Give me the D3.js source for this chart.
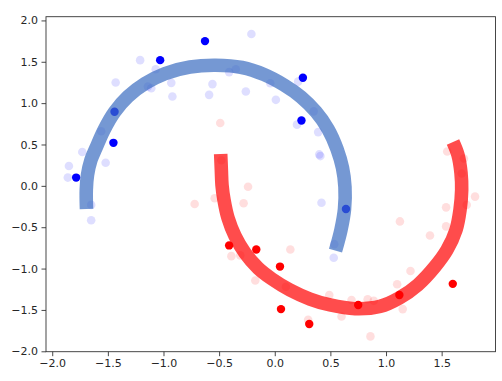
<!DOCTYPE html>
<html>
<head>
<meta charset="utf-8">
<script src="https://cdn.jsdelivr.net/npm/d3@7"></script>
<style>
  body { margin: 0; background: #fff; }
  text { font-family: "DejaVu Sans", sans-serif; }
</style>
</head>
<body>
<svg></svg>
<script>
// Tick values
const xTicks = [-2.0, -1.5, -1.0, -0.5, 0.0, 0.5, 1.0, 1.5];
const yTicks = [-2.0, -1.5, -1.0, -0.5, 0.0, 0.5, 1.0, 1.5, 2.0];

// Upper moon (blue) – faint points and highlighted points
const blueFaint = [
  [-1.21, 1.52], [-1.07, 1.41], [-1.43, 1.25], [-1.14, 1.20], [-1.11, 1.18],
  [-1.56, 0.66], [-1.73, 0.41], [-1.52, 0.28], [-1.85, 0.24], [-1.86, 0.10],
  [-0.21, 1.835], [-0.93, 1.245], [-0.92, 1.08], [-0.56, 1.23], [-0.59, 1.10],
  [-0.41, 1.375], [-0.35, 1.41], [-0.26, 1.14], [-0.04, 1.24], [0.01, 1.04],
  [0.21, 1.26], [0.35, 0.90], [0.20, 0.74], [0.39, 0.65], [0.40, 0.38],
  [0.41, 0.36], [-1.65, -0.23], [-1.65, -0.415], [0.42, -0.205], [0.535, -0.705],
  [0.53, -0.87]
];
const blueSolid = [
  [-1.03, 1.52], [-1.44, 0.895], [-1.45, 0.52], [-1.785, 0.10], [-0.627, 1.75],
  [0.253, 1.307], [0.24, 0.79], [0.64, -0.28]
];

// Lower moon (red)
const redFaint = [
  [-0.49, 0.76], [-0.48, 0.31], [-0.24, -0.01], [-0.72, -0.22], [-0.54, -0.15],
  [-0.28, -0.21], [-0.39, -0.85], [-0.31, -0.84], [-0.175, -1.145], [0.14, -0.77],
  [0.10, -1.22], [0.49, -1.32], [0.30, -1.62], [0.60, -1.58], [0.69, -1.38],
  [0.835, -1.37], [0.89, -1.39], [0.86, -1.82], [1.125, -0.43], [1.395, -0.60],
  [1.54, -0.26], [1.54, -0.49], [1.725, -0.23], [1.80, -0.13], [1.22, -1.03],
  [1.10, -1.19], [1.15, -1.49], [1.55, 0.415], [1.70, 0.33], [1.68, 0.15]
];
const redSolid = [
  [-0.41, -0.72], [-0.166, -0.77], [0.047, -0.976], [0.056, -1.49], [0.31, -1.67],
  [0.75, -1.44], [1.12, -1.32], [1.60, -1.185]
];

// Thick curves traced along each moon
const blueArc = [
  [-1.692, -0.280], [-1.694, -0.050], [-1.683, 0.131], [-1.652, 0.313], [-1.607, 0.458],
  [-1.535, 0.675], [-1.440, 0.893], [-1.319, 1.080], [-1.166, 1.237], [-0.986, 1.358],
  [-0.762, 1.437], [-0.531, 1.458], [-0.294, 1.431], [-0.097, 1.346], [0.083, 1.219],
  [0.236, 1.074], [0.371, 0.893], [0.479, 0.687], [0.560, 0.445], [0.609, 0.216],
  [0.631, -0.014], [0.627, -0.280], [0.595, -0.533], [0.546, -0.783]
];
const redArc = [
  [-0.486, 0.385], [-0.480, 0.192], [-0.474, 0.010], [-0.456, -0.171], [-0.420, -0.389],
  [-0.357, -0.606], [-0.267, -0.812], [-0.151, -0.993], [-0.025, -1.126], [0.137, -1.259],
  [0.317, -1.368], [0.497, -1.440], [0.721, -1.485], [0.946, -1.458], [1.119, -1.356],
  [1.287, -1.196], [1.440, -0.977], [1.548, -0.775], [1.629, -0.534], [1.665, -0.292],
  [1.680, -0.050], [1.674, 0.155], [1.647, 0.373], [1.602, 0.530]
];

const W = 502, H = 381;
const plot = {left: 46, right: 495.5, top: 16.7, bottom: 351.7};

const svg = d3.select("svg")
    .attr("width", W)
    .attr("height", H);

const x = d3.scaleLinear()
  .domain([-2.056, 1.984])
  .range([plot.left, plot.right]);
const y = d3.scaleLinear()
  .domain([-2.005, 2.045])
  .range([plot.bottom, plot.top]);

const body = svg.append("g");

// faint points
body.append("g")
  .selectAll("circle")
  .data(blueFaint)
  .enter().append("circle")
    .attr("cx", d => x(d[0]))
    .attr("cy", d => y(d[1]))
    .attr("r", 4.3)
    .attr("fill", "blue")
    .attr("fill-opacity", 0.13);

body.append("g")
  .selectAll("circle")
  .data(redFaint)
  .enter().append("circle")
    .attr("cx", d => x(d[0]))
    .attr("cy", d => y(d[1]))
    .attr("r", 4.3)
    .attr("fill", "red")
    .attr("fill-opacity", 0.13);

// highlighted points
body.append("g")
  .selectAll("circle")
  .data(blueSolid)
  .enter().append("circle")
    .attr("cx", d => x(d[0]))
    .attr("cy", d => y(d[1]))
    .attr("r", 4.2)
    .attr("fill", "blue");

body.append("g")
  .selectAll("circle")
  .data(redSolid)
  .enter().append("circle")
    .attr("cx", d => x(d[0]))
    .attr("cy", d => y(d[1]))
    .attr("r", 4.2)
    .attr("fill", "red");

// thick curves on top
const line = d3.line()
  .x(d => x(d[0]))
  .y(d => y(d[1]))
  .curve(d3.curveCatmullRom.alpha(0.5));

body.append("path")
  .datum(blueArc)
  .attr("d", line)
  .attr("fill", "none")
  .attr("stroke", "#3b6cc0")
  .attr("stroke-opacity", 0.7)
  .attr("stroke-width", 13.6);

body.append("path")
  .datum(redArc)
  .attr("d", line)
  .attr("fill", "none")
  .attr("stroke", "red")
  .attr("stroke-opacity", 0.7)
  .attr("stroke-width", 13.6);

// frame
svg.append("rect")
  .attr("x", plot.left)
  .attr("y", plot.top)
  .attr("width", plot.right - plot.left)
  .attr("height", plot.bottom - plot.top)
  .attr("fill", "none")
  .attr("stroke", "#333")
  .attr("stroke-width", 0.9);

// axes
const fmt = d3.format(".1f");
const xAxis = svg.append("g")
  .attr("transform", `translate(0,${plot.bottom})`)
  .call(d3.axisBottom(x).tickValues(xTicks).tickFormat(fmt).tickSize(4.5).tickPadding(3.5));
const yAxis = svg.append("g")
  .attr("transform", `translate(${plot.left},0)`)
  .call(d3.axisLeft(y).tickValues(yTicks).tickFormat(fmt).tickSize(4.5).tickPadding(3.5));

[xAxis, yAxis].forEach(a => {
  a.select(".domain").remove();
  a.selectAll(".tick line").attr("stroke", "#333").attr("stroke-width", 0.9);
  a.selectAll(".tick text")
    .attr("fill", "#262626")
    .style("font-family", "DejaVu Sans")
    .style("font-size", "11px");
});
</script>
</body>
</html>
